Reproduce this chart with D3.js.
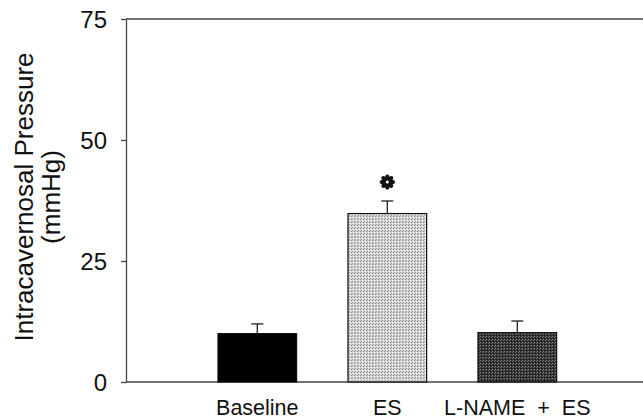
<!DOCTYPE html>
<html><head><meta charset="utf-8">
<script src="https://cdn.jsdelivr.net/npm/d3@7"></script>
<style>
html,body{margin:0;padding:0;background:#fff;}
text{font-family:"Liberation Sans",Arial,sans-serif;fill:#111;}
</style></head>
<body>
<svg id="chart" width="643" height="420"></svg>
<script>
const categories = ["Baseline", "ES", "L-NAME + ES"];
const means = [10.0, 34.8, 10.2];
const errors = [2.0, 2.6, 2.4];
const significant = [false, true, false];
const yTicks = [0, 25, 50, 75];
const yLabelLines = ["Intracavernosal Pressure", "(mmHg)"];

(function(){
const svg = d3.select("#chart");
const W = 643, H = 420;
const axisX = 126, plotTop = 19, plotBottom = 382;
const lineCol = "#444";

const defs = svg.append("defs");
const pLight = defs.append("pattern").attr("id","pLight").attr("patternUnits","userSpaceOnUse").attr("width",3).attr("height",3);
pLight.append("rect").attr("width",3).attr("height",3).attr("fill","#d4d4d4");
pLight.append("rect").attr("x",0).attr("y",0).attr("width",1).attr("height",1).attr("fill","#858585");
pLight.append("rect").attr("x",2).attr("y",1).attr("width",1).attr("height",1).attr("fill","#ffffff");
pLight.append("rect").attr("x",1).attr("y",2).attr("width",1).attr("height",1).attr("fill","#9a9a9a");
const pDark = defs.append("pattern").attr("id","pDark").attr("patternUnits","userSpaceOnUse").attr("width",3).attr("height",3);
pDark.append("rect").attr("width",3).attr("height",3).attr("fill","#333");
pDark.append("rect").attr("x",0).attr("y",0).attr("width",1).attr("height",1).attr("fill","#8a8a8a");
pDark.append("rect").attr("x",2).attr("y",1).attr("width",1).attr("height",1).attr("fill","#6a6a6a");
pDark.append("rect").attr("x",1).attr("y",2).attr("width",1).attr("height",1).attr("fill","#111");
const fills = ["#000", "url(#pLight)", "url(#pDark)"];

const y = d3.scaleLinear().domain([0, 75]).range([plotBottom, plotTop]);
const x = d3.scaleBand().domain(categories).range([192.3, 582.3]).paddingInner(0.395).paddingOuter(0.1975);

svg.append("line").attr("x1", axisX).attr("x2", W).attr("y1", y(75)).attr("y2", y(75)).attr("stroke",lineCol).attr("stroke-width",1.3);
svg.append("line").attr("x1", axisX).attr("x2", W).attr("y1", y(0)).attr("y2", y(0)).attr("stroke",lineCol).attr("stroke-width",1.3);

svg.selectAll("rect.bar").data(categories).join("rect").attr("class","bar")
  .attr("x", d => x(d)).attr("width", x.bandwidth())
  .attr("y", (d,i) => y(means[i])).attr("height", (d,i) => y(0) - y(means[i]))
  .attr("fill", (d,i) => fills[i]).attr("stroke","#111").attr("stroke-width",1.2);

const cap = 6;
categories.forEach((c,i) => {
  const cx = x(c) + x.bandwidth()/2;
  svg.append("line").attr("x1",cx).attr("x2",cx).attr("y1",y(means[i])).attr("y2",y(means[i]+errors[i])).attr("stroke","#222").attr("stroke-width",1.3);
  svg.append("line").attr("x1",cx-cap).attr("x2",cx+cap).attr("y1",y(means[i]+errors[i])).attr("y2",y(means[i]+errors[i])).attr("stroke","#222").attr("stroke-width",1.3);
  if (significant[i]) {
    const g = svg.append("g").attr("transform", `translate(${cx},${y(means[i]+errors[i]) - 19})`);
    for (let k = 0; k < 8; k++) {
      g.append("ellipse").attr("cx",0).attr("cy",-4.0).attr("rx",2.3).attr("ry",3.6)
        .attr("transform",`rotate(${k*45})`).attr("fill","#111");
    }
    g.append("circle").attr("r",1.5).attr("fill","#fff");
  }
});

const yAxis = svg.append("g").attr("transform",`translate(${axisX},0)`)
  .call(d3.axisLeft(y).tickValues(yTicks).tickSize(5).tickPadding(14).tickSizeOuter(0));
yAxis.select(".domain").attr("stroke",lineCol).attr("stroke-width",1.3);
yAxis.selectAll(".tick line").attr("stroke",lineCol).attr("stroke-width",1.3);
yAxis.selectAll(".tick text").attr("font-size",24).attr("font-family","Liberation Sans, Arial, sans-serif").attr("fill","#111").attr("dy","0.36em");

svg.selectAll("text.cat").data(categories).join("text").attr("class","cat")
  .attr("x", d => x(d) + x.bandwidth()/2).attr("y", 415)
  .attr("text-anchor","middle").attr("font-size",21.5).attr("word-spacing","6px").text(d => d);

const yl = svg.append("text").attr("transform","translate(33,197) rotate(-90)").attr("text-anchor","middle").attr("font-size",26);
yl.append("tspan").attr("x",0).attr("y",0).text(yLabelLines[0]);
yl.append("tspan").attr("x",0).attr("y",27).text(yLabelLines[1]);
})();
</script>
</body></html>
